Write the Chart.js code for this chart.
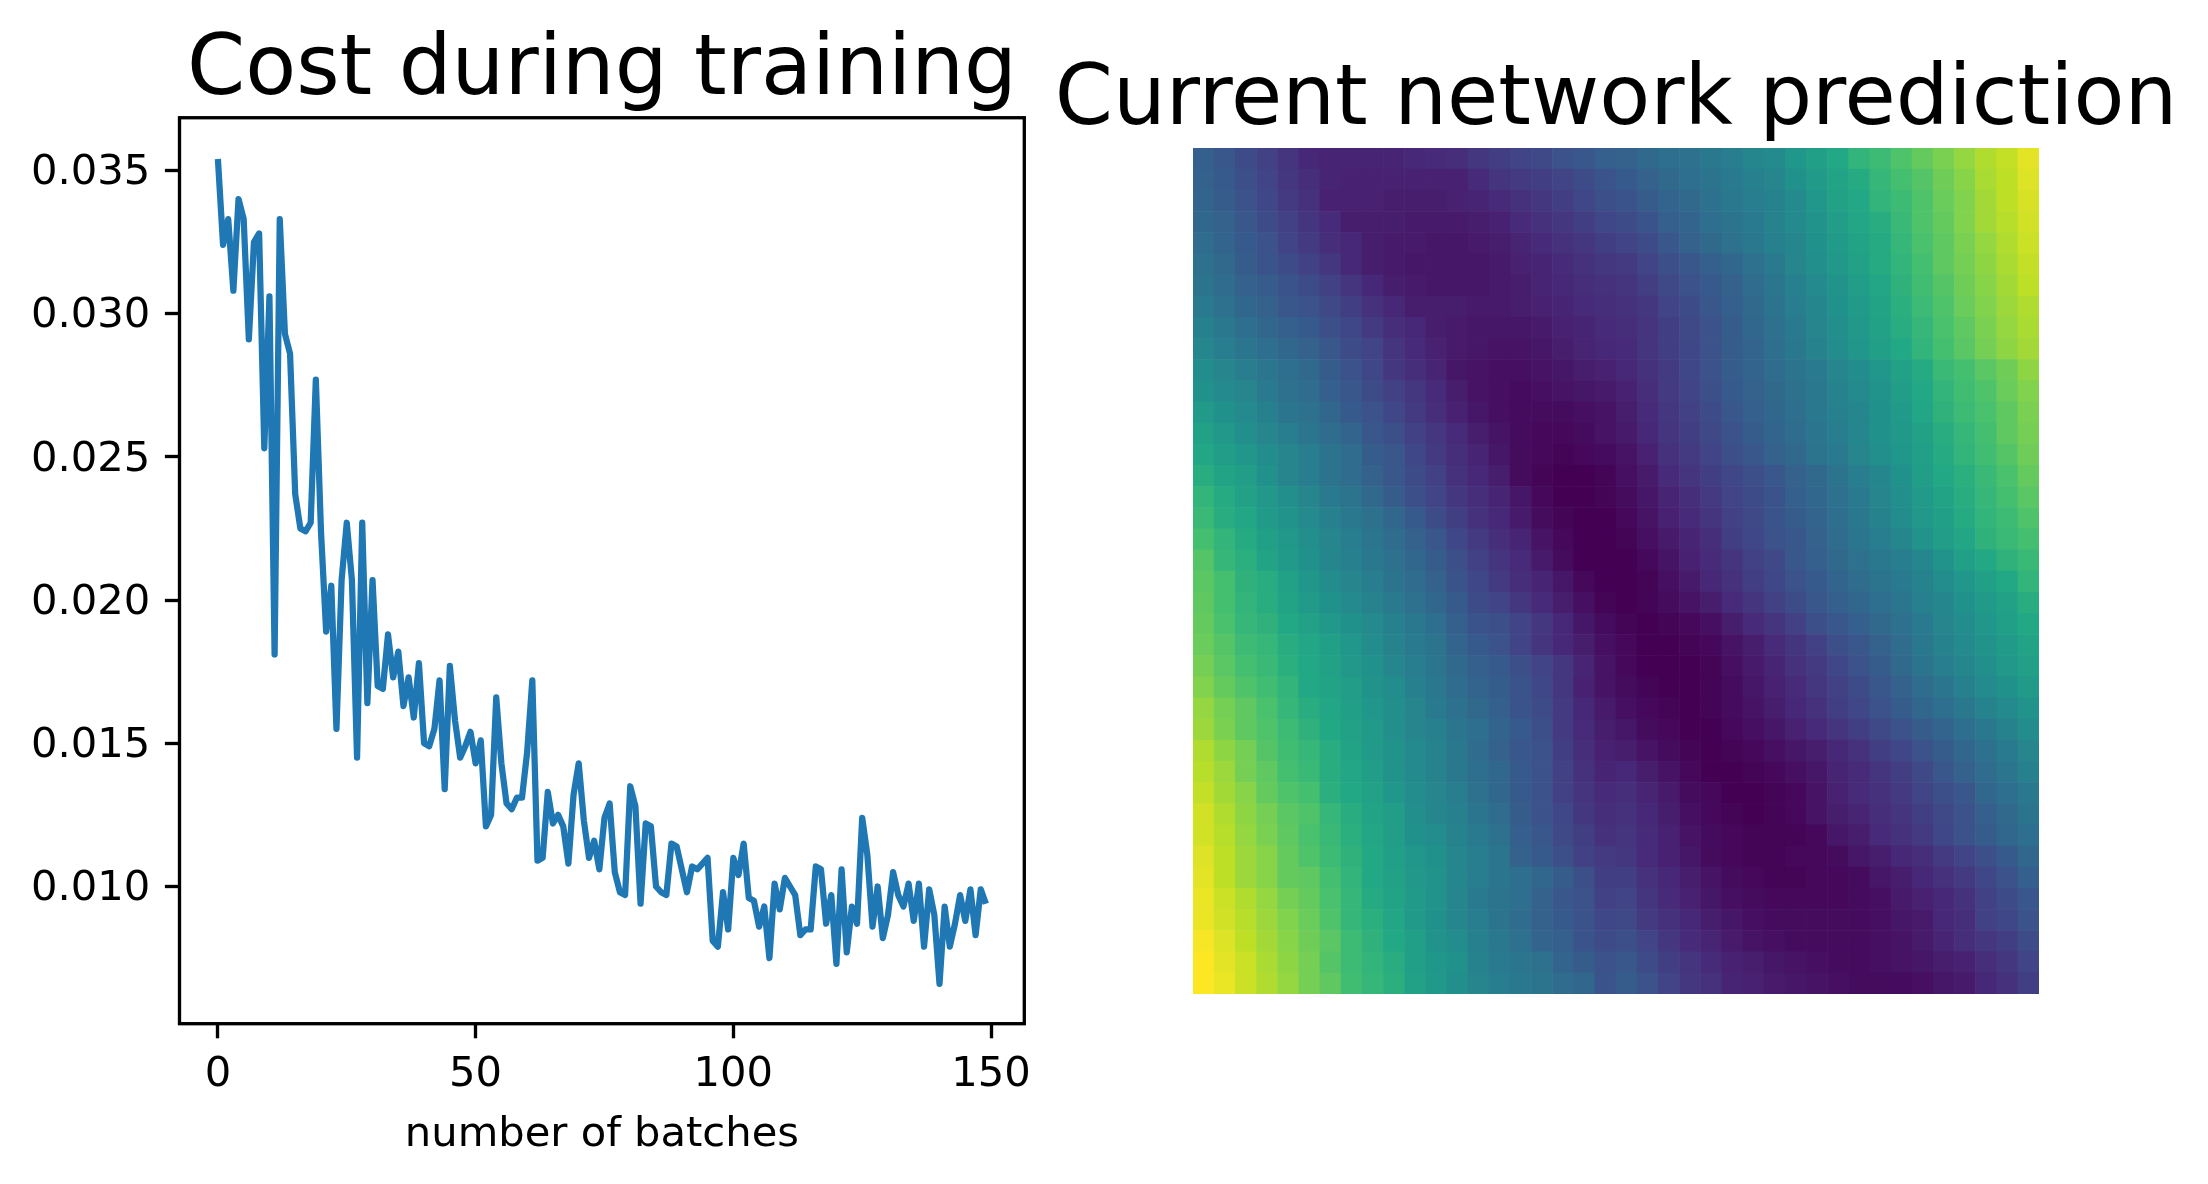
<!DOCTYPE html>
<html>
<head>
<meta charset="utf-8">
<title>Cost during training</title>
<script src="https://cdn.jsdelivr.net/npm/chart.js@4"></script>
<style>
  html, body { margin: 0; padding: 0; background: #fff; width: 2208px; height: 1184px; overflow: hidden; }
  canvas { position: absolute; top: 0; }
  #costChart { left: 0; }
  #predictionChart { left: 1024px; }
</style>
</head>
<body>
<canvas id="costChart" width="1204" height="1184"></canvas>
<canvas id="predictionChart" width="1184" height="1184"></canvas>
<script>
const costValues = [
  0.0354, 0.0324, 0.0333, 0.0308, 0.0340, 0.0333, 0.0291, 0.0325, 0.0328, 0.0253,
  0.0306, 0.0181, 0.0333, 0.0293, 0.0286, 0.0237, 0.0225, 0.0224, 0.0227, 0.0277,
  0.0224, 0.0189, 0.0205, 0.0155, 0.0207, 0.0227, 0.0207, 0.0145, 0.0227, 0.0164,
  0.0207, 0.0170, 0.0169, 0.0188, 0.0173, 0.0182, 0.0163, 0.0173, 0.0159, 0.0178,
  0.0150, 0.0149, 0.0155, 0.0172, 0.0134, 0.0177, 0.0158, 0.0145, 0.0149, 0.0154,
  0.0143, 0.0151, 0.0121, 0.0125, 0.0166, 0.0143, 0.0129, 0.0127, 0.0131, 0.0131,
  0.0147, 0.0172, 0.0109, 0.0110, 0.0133, 0.0122, 0.0125, 0.0121, 0.0108, 0.0132,
  0.0143, 0.0123, 0.0110, 0.0116, 0.0106, 0.0124, 0.0129, 0.0105, 0.0098, 0.0097,
  0.0135, 0.0128, 0.0094, 0.0122, 0.0121, 0.0100, 0.0098, 0.0097, 0.0115, 0.0114,
  0.0106, 0.0098, 0.0107, 0.0106, 0.0108, 0.0110, 0.0081, 0.0079, 0.0098, 0.0085,
  0.0110, 0.0104, 0.0115, 0.0096, 0.0095, 0.0086, 0.0093, 0.0075, 0.0101, 0.0092,
  0.0103, 0.0100, 0.0097, 0.0083, 0.0085, 0.0085, 0.0107, 0.0106, 0.0087, 0.0097,
  0.0073, 0.0106, 0.0077, 0.0093, 0.0087, 0.0124, 0.0111, 0.0086, 0.0100, 0.0082,
  0.0090, 0.0105, 0.0097, 0.0093, 0.0101, 0.0088, 0.0101, 0.0079, 0.0099, 0.0090,
  0.0066, 0.0093, 0.0079, 0.0087, 0.0097, 0.0088, 0.0099, 0.0083, 0.0099, 0.0094
];
const batchTicks = [0, 50, 100, 150];
const costTicks = [0.010, 0.015, 0.020, 0.025, 0.030, 0.035];

// Значения сетки 40x40 в процентах палитры, строки сверху вниз
const predictionRows = [
  [30,27,23,19,15,11,10,10,10,10,11,12,13,16,18,20,22,25,27,30,31,34,36,37,40,42,46,47,52,56,60,65,68,72,76,80,84,88,91,96],
  [31,28,24,20,16,13,10,9,9,9,9,9,9,12,15,17,18,20,23,26,28,31,34,36,38,41,43,45,50,54,58,61,66,70,73,78,82,87,90,95],
  [32,29,25,21,17,14,9,9,9,8,8,8,9,10,12,14,16,18,21,24,26,29,32,34,37,40,42,44,47,52,57,60,65,68,72,77,81,86,90,94],
  [33,31,27,23,19,15,12,8,8,8,7,7,7,8,9,12,14,16,18,21,23,26,30,32,36,38,41,44,47,51,55,59,62,67,72,76,81,86,89,93],
  [35,32,28,25,20,17,13,11,8,7,7,6,6,7,8,10,12,14,16,18,20,23,27,31,34,37,40,43,46,50,54,58,61,66,71,75,80,84,88,92],
  [37,34,29,26,23,19,16,11,8,7,6,6,6,6,7,9,10,12,14,16,17,20,24,27,30,33,37,41,45,49,53,57,61,65,70,75,79,83,87,91],
  [38,35,31,29,26,23,19,15,11,8,7,6,6,6,7,8,10,11,13,14,15,18,22,25,28,31,35,39,43,47,51,55,59,64,69,73,78,82,86,90],
  [41,37,33,31,27,25,22,18,14,11,8,8,8,7,7,8,9,10,12,13,14,16,20,23,27,30,34,38,42,46,50,54,58,63,68,72,77,81,85,88],
  [43,40,36,33,30,28,24,21,17,13,11,8,7,6,6,6,7,9,10,12,13,15,18,22,25,29,33,37,41,45,49,53,57,62,66,71,75,80,84,87],
  [46,42,39,36,33,31,27,23,20,15,12,9,7,6,5,5,6,8,10,11,12,15,18,21,25,29,32,36,40,44,48,52,56,60,65,70,74,79,83,86],
  [48,45,42,39,36,34,29,25,21,16,13,10,6,5,4,4,5,6,8,9,11,14,17,21,25,29,32,35,38,41,45,48,52,57,61,67,70,74,78,83],
  [50,47,45,41,37,35,30,27,23,19,16,12,8,5,4,3,4,5,6,7,9,13,17,20,24,28,31,34,37,40,44,47,51,55,60,65,69,72,77,81],
  [54,50,47,43,39,37,33,28,25,21,17,13,9,6,4,3,3,3,4,5,8,12,16,19,23,27,30,33,36,40,43,46,50,54,59,64,68,71,75,80],
  [57,53,49,45,42,39,35,32,27,24,19,16,12,8,5,3,2,2,3,5,7,11,15,18,22,25,29,32,35,39,42,46,50,53,57,62,66,70,75,79],
  [59,55,52,48,45,42,38,35,29,27,21,17,13,10,6,3,2,1,2,3,5,9,14,17,20,24,27,31,34,38,41,45,49,52,56,61,65,69,73,78],
  [62,58,55,50,45,42,38,35,31,27,23,19,14,11,8,3,1,0,0,1,4,7,12,15,18,21,24,27,31,34,38,42,46,50,55,60,63,67,71,76],
  [65,61,57,53,49,45,41,38,34,29,24,20,16,13,10,6,2,0,0,1,3,6,10,13,17,20,23,26,30,33,37,41,45,49,54,58,62,66,70,74],
  [67,62,59,54,51,47,43,40,37,33,28,23,18,14,11,7,3,1,0,0,2,5,9,12,15,19,22,26,29,32,36,40,44,48,53,56,61,65,68,72],
  [70,65,61,56,53,49,45,42,39,35,31,27,21,17,13,10,5,2,0,0,1,4,7,10,13,18,21,25,27,31,35,39,42,46,51,55,59,64,67,70],
  [73,66,63,58,54,50,46,43,40,37,33,29,24,19,15,12,7,3,0,0,0,2,5,9,12,15,19,22,27,30,34,37,40,42,46,51,56,60,64,67],
  [74,70,64,62,57,52,48,45,42,38,35,31,26,21,17,13,10,6,2,0,0,1,4,7,11,14,18,21,25,28,32,35,38,41,44,48,52,56,60,65],
  [75,70,65,62,58,54,50,47,44,41,37,33,28,23,20,16,12,8,4,1,0,1,3,5,8,12,15,19,23,27,30,33,36,39,43,46,50,54,57,62],
  [76,71,66,64,60,57,53,50,47,43,40,36,30,26,24,20,16,11,6,3,1,0,1,2,4,8,12,15,19,24,27,30,34,37,41,45,48,52,56,60],
  [77,73,68,66,62,59,56,52,48,44,41,38,32,28,25,20,15,11,8,4,2,0,0,1,2,5,8,12,15,19,24,27,31,35,40,44,47,51,54,58],
  [79,74,70,67,63,60,57,53,50,46,42,39,34,30,28,24,20,16,10,5,2,0,0,0,1,4,7,10,14,17,21,25,29,34,38,42,46,49,53,56],
  [81,76,72,69,65,60,58,55,51,48,43,40,35,32,29,26,21,16,9,5,3,1,0,0,1,3,6,9,12,16,19,23,27,31,35,39,43,47,50,54],
  [84,79,75,71,66,62,59,56,52,49,45,41,37,34,30,26,23,17,11,7,4,2,1,0,1,3,5,8,11,14,18,21,25,29,33,36,40,44,47,51],
  [85,80,75,72,68,64,60,57,54,49,45,43,39,36,32,28,24,17,12,8,6,3,2,0,0,2,4,6,9,12,15,18,22,25,29,32,36,40,44,48],
  [88,83,79,73,69,66,62,58,54,51,47,44,40,35,31,27,25,18,13,9,8,5,3,1,0,1,2,4,6,8,11,14,18,21,25,29,33,37,41,45],
  [89,85,79,75,70,67,62,59,55,51,47,44,40,36,33,28,25,19,14,10,11,8,5,2,0,0,1,2,4,6,10,12,15,18,22,27,31,35,39,43],
  [91,86,82,76,72,70,63,60,57,52,48,45,42,37,33,28,25,19,15,12,13,10,7,3,2,0,0,1,2,5,9,12,14,17,20,24,27,33,36,40],
  [93,88,83,79,74,72,66,62,58,55,49,46,43,39,35,29,25,21,16,13,14,11,8,4,2,1,0,1,2,5,8,10,13,15,18,22,25,30,34,38],
  [93,89,84,80,75,71,67,63,59,55,50,48,44,41,37,30,27,22,18,14,15,12,9,5,3,2,1,1,1,2,6,8,12,14,17,21,25,29,33,36],
  [95,90,85,82,76,72,68,64,60,56,52,50,45,42,39,31,28,24,19,17,16,12,9,6,3,2,1,1,2,2,3,6,8,11,13,17,20,24,28,33],
  [96,90,85,82,76,75,70,65,60,57,53,51,46,42,39,36,33,29,24,18,18,14,11,8,5,3,2,1,1,2,2,3,6,8,11,14,17,21,25,30],
  [97,92,88,84,79,76,71,66,61,58,54,51,45,41,38,36,31,27,25,19,20,15,12,9,6,4,3,2,2,2,2,3,4,7,9,11,14,19,23,27],
  [97,93,89,85,81,77,72,66,63,59,54,50,46,42,38,35,31,28,25,21,22,17,14,11,8,6,4,3,3,3,3,3,4,6,7,11,13,19,21,25],
  [99,95,90,86,82,78,74,68,64,60,56,51,48,43,40,37,32,30,26,23,24,20,16,12,10,7,5,4,3,3,3,3,4,5,7,10,13,16,18,23],
  [100,96,92,87,83,79,73,68,65,62,56,52,50,44,41,39,37,32,29,25,27,23,18,15,12,9,8,6,5,4,3,3,4,5,6,8,9,13,16,20],
  [100,97,92,88,84,79,75,69,66,63,57,53,49,45,42,40,38,35,33,26,29,25,20,16,14,10,9,7,6,5,4,3,3,3,4,6,7,11,14,18]
];

// Опорные цвета палитры viridis с шагом 10%
const viridisStops = [
  [68, 1, 84], [72, 36, 117], [65, 68, 135], [53, 95, 141], [42, 120, 142],
  [33, 145, 140], [34, 168, 132], [68, 191, 112], [122, 209, 81], [189, 223, 38], [253, 231, 37]
];

const FONT = '"DejaVu Sans", sans-serif';
const TICK_SIZE = 41.67;
const TITLE_SIZE = 83.33;
const LINE_W = 3.33;

function viridis(percent) {
  const pos = percent / 10;
  const i = Math.min(Math.floor(pos), viridisStops.length - 2);
  const t = pos - i;
  const rgb = viridisStops[i].map((c, k) => Math.round(c + (viridisStops[i + 1][k] - c) * t));
  return `rgb(${rgb.join(',')})`;
}

// Рамка осей со всех четырёх сторон
const framePlugin = {
  id: 'frame',
  afterDraw(chart) {
    const { ctx, chartArea: a } = chart;
    ctx.save();
    ctx.strokeStyle = '#000';
    ctx.lineWidth = LINE_W;
    ctx.strokeRect(a.left, a.top, a.right - a.left, a.bottom - a.top);
    ctx.restore();
  }
};

const axisGrid = {
  display: true,
  drawOnChartArea: false,
  drawTicks: true,
  tickLength: 14.6,
  tickWidth: LINE_W,
  tickColor: '#000'
};

new Chart(document.getElementById('costChart'), {
  type: 'line',
  data: {
    datasets: [{
      data: costValues.map((v, i) => ({ x: i, y: v })),
      borderColor: '#1f77b4',
      borderWidth: 6.25,
      borderJoinStyle: 'round',
      borderCapStyle: 'butt',
      pointRadius: 0,
      tension: 0
    }]
  },
  options: {
    responsive: false,
    animation: false,
    devicePixelRatio: 1,
    layout: { padding: { left: 0, right: 179.7, top: 0, bottom: 0 } },
    plugins: {
      legend: { display: false },
      tooltip: { enabled: false },
      title: {
        display: true,
        fullSize: false,
        text: 'Cost during training',
        color: '#000',
        font: { family: FONT, size: TITLE_SIZE, weight: 'normal', lineHeight: 1 },
        padding: { top: 30.3, bottom: 4.1 }
      }
    },
    scales: {
      x: {
        type: 'linear',
        min: -7.45,
        max: 156.45,
        afterBuildTicks: scale => { scale.ticks = batchTicks.map(v => ({ value: v })); },
        afterFit: scale => { scale.height = 160.3; },
        grid: axisGrid,
        border: { display: false },
        ticks: {
          color: '#000',
          font: { family: FONT, size: TICK_SIZE },
          padding: 12,
          maxRotation: 0,
          autoSkip: false,
          callback: v => String(v)
        },
        title: {
          display: true,
          text: 'number of batches',
          color: '#000',
          font: { family: FONT, size: TICK_SIZE, lineHeight: 1.2 },
          padding: { top: 0, bottom: 24 }
        }
      },
      y: {
        type: 'linear',
        min: 0.00521,
        max: 0.03684,
        afterBuildTicks: scale => { scale.ticks = costTicks.map(v => ({ value: v })); },
        afterFit: scale => { scale.width = 179.5; },
        grid: axisGrid,
        border: { display: false },
        ticks: {
          color: '#000',
          font: { family: FONT, size: TICK_SIZE },
          padding: 14.6,
          labelOffset: 3,
          autoSkip: false,
          callback: v => v.toFixed(3)
        }
      }
    }
  },
  plugins: [framePlugin]
});

// Размер точки-прямоугольника по шагу шкалы (с небольшим перекрытием, чтобы не было швов)
function cellRadius(ctx) {
  const x = ctx.chart.scales.x;
  const step = Math.abs(x.getPixelForValue(1) - x.getPixelForValue(0));
  return (step / 2 + 0.3) / Math.SQRT1_2;
}

const predictionCells = predictionRows.flatMap((row, r) =>
  row.map((v, c) => ({ x: c + 0.5, y: r + 0.5, v })));

// Пустые боковые оси только задают поля вокруг картинки, заголовок шире неё
const sideAxis = position => ({
  type: 'linear',
  position,
  grid: { display: false },
  border: { display: false },
  ticks: { display: false },
  afterFit: scale => { scale.width = 169; }
});

new Chart(document.getElementById('predictionChart'), {
  type: 'scatter',
  data: {
    datasets: [{
      data: predictionCells,
      pointStyle: 'rect',
      pointRadius: cellRadius,
      pointBorderWidth: 0,
      pointBackgroundColor: predictionCells.map(cell => viridis(cell.v))
    }]
  },
  options: {
    responsive: false,
    animation: false,
    devicePixelRatio: 1,
    layout: { padding: { left: 0, right: 0, top: 0, bottom: 190 } },
    plugins: {
      legend: { display: false },
      tooltip: { enabled: false },
      title: {
        display: true,
        text: 'Current network prediction',
        color: '#000',
        font: { family: FONT, size: TITLE_SIZE, weight: 'normal', lineHeight: 1 },
        padding: { top: 60.5, bottom: 4.17 }
      }
    },
    scales: {
      x: { type: 'linear', min: 0, max: 40, display: false },
      y: { ...sideAxis('left'), min: 0, max: 40, reverse: true },
      yEdge: sideAxis('right')
    }
  }
});
</script>
</body>
</html>
